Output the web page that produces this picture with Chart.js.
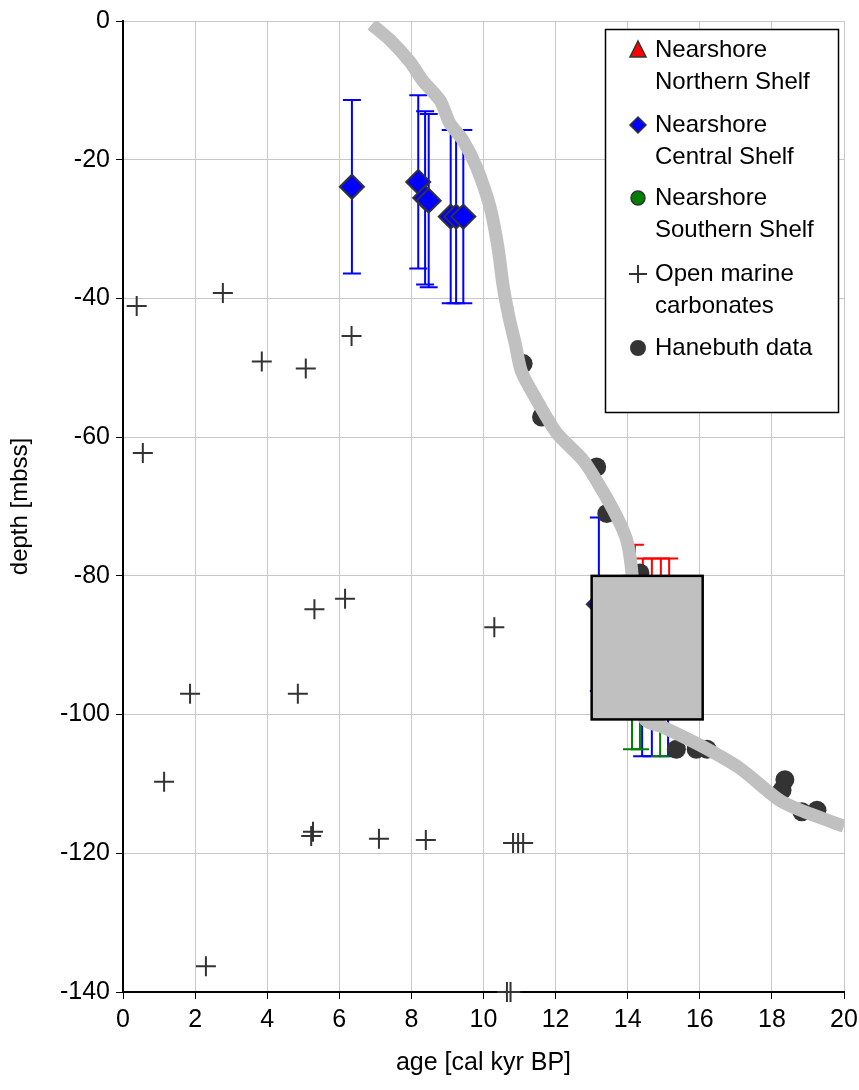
<!DOCTYPE html>
<html>
<head>
<meta charset="utf-8">
<script src="https://cdn.jsdelivr.net/npm/chart.js@4.4.0/dist/chart.umd.min.js"></script>
<style>
body { margin: 0; background: #fff; }
</style>
</head>
<body>
<canvas id="chart" width="859" height="1090"></canvas>
<script>

// x ticks / y ticks
var ageTicks = [0, 2, 4, 6, 8, 10, 12, 14, 16, 18, 20];
var depthTicks = [0, -20, -40, -60, -80, -100, -120, -140];

// Nearshore Northern Shelf (red triangles)
var northAge = [14.2, 14.42, 14.67, 14.92, 15.15];
var northDepth = [-87, -89, -89, -89, -89];
var northErr = [11.5, 11.5, 11.5, 11.5, 11.5];

// Nearshore Central Shelf (blue diamonds)
var centralAge = [6.35, 8.19, 8.38, 8.48, 9.09, 9.24, 9.44, 13.2, 14.4, 14.67, 15.12];
var centralDepth = [-23.9, -23.2, -25.5, -25.9, -28.2, -28.2, -28.2, -84.1, -93.5, -93.5, -93.5];
var centralErr = [12.5, 12.5, 12.5, 12.5, 12.5, 12.5, 12.5, 12.5, 12.5, 12.5, 12.5];

// Nearshore Southern Shelf (green circles)
var southAge = [14.12, 14.34, 14.9];
var southDepth = [-92.5, -92.5, -93.5];
var southErr = [12.5, 12.5, 12.5];

// Open marine carbonates (crosses)
var marineAge = [0.38, 2.77, 3.85, 5.07, 6.34, 0.55, 5.31, 6.16, 10.3, 1.86, 4.85, 1.14,
                 5.27, 5.22, 7.1, 8.4, 10.82, 10.96, 11.1, 2.3, 10.65, 10.75];
var marineDepth = [-41.1, -39.2, -49.1, -50.1, -45.4, -62.3, -84.8, -83.3, -87.4, -97, -97, -109.7,
                   -116.9, -117.5, -117.9, -118.1, -118.5, -118.5, -118.5, -136.3, -140, -140];

// Hanebuth data (dark circles)
var hanAge = [11.1, 11.61, 13.14, 13.42, 14.34, 15.35, 15.9, 16.2, 18.28, 18.36, 18.83, 19.25];
var hanDepth = [-49.4, -57.1, -64.3, -71.0, -79.6, -105, -105, -105, -110.9, -109.4, -114, -113.8];

// sea level curve (grey band)
var curveAge = [6.9, 7.4, 7.96, 8.3, 8.8, 9.06, 9.43, 9.8, 10.18, 10.4, 10.55, 10.72, 10.88, 11.05,
                11.47, 12.03, 12.76, 13.23, 13.7, 13.97, 14.1, 14.2, 14.25, 14.48, 14.98, 16.0,
                17.1, 18.2, 18.8, 20.0];
var curveDepth = [-0.5, -2.7, -5.9, -8.5, -11.5, -14.7, -17.2, -21, -26.8, -32.6, -38.4, -43, -46.5, -50.5,
                  -54.6, -59.4, -63.3, -67.1, -71.5, -74.8, -78.7, -85, -95, -100.7, -101.8, -104.4,
                  -107.7, -112.3, -113.8, -116.1];

// grey box (age range, depth range)
var boxAge = [13.0, 16.08];
var boxDepth = [-80, -100.7];

var legendLabels = [
    ['Nearshore', 'Northern Shelf'],
    ['Nearshore', 'Central Shelf'],
    ['Nearshore', 'Southern Shelf'],
    ['Open marine', 'carbonates'],
    ['Hanebuth data']
];

function pts(xs, ys) {
    return xs.map(function (x, i) { return { x: x, y: ys[i] }; });
}

var regular = "'Liberation Sans', Arial, sans-serif";

var errorBarPlugin = {
    id: 'errorBars',
    beforeDatasetsDraw: function (chart) {
        var ctx = chart.ctx, xs = chart.scales.x, ys = chart.scales.y;
        chart.data.datasets.forEach(function (ds) {
            if (!ds.errors) return;
            ctx.save();
            ctx.strokeStyle = ds.errorColor;
            ctx.lineWidth = 2;
            ds.data.forEach(function (p, j) {
                var px = xs.getPixelForValue(p.x);
                var top = ys.getPixelForValue(p.y + ds.errors[j]);
                var bot = ys.getPixelForValue(p.y - ds.errors[j]);
                ctx.beginPath();
                ctx.moveTo(px, top); ctx.lineTo(px, bot);
                ctx.moveTo(px - 9, top); ctx.lineTo(px + 9, top);
                ctx.moveTo(px - 9, bot); ctx.lineTo(px + 9, bot);
                ctx.stroke();
            });
            ctx.restore();
        });
    }
};

var boxPlugin = {
    id: 'greyBox',
    afterDatasetsDraw: function (chart) {
        var ctx = chart.ctx, xs = chart.scales.x, ys = chart.scales.y;
        var x0 = xs.getPixelForValue(boxAge[0]), x1 = xs.getPixelForValue(boxAge[1]);
        var y0 = ys.getPixelForValue(boxDepth[0]), y1 = ys.getPixelForValue(boxDepth[1]);
        ctx.save();
        ctx.fillStyle = '#c0c0c0';
        ctx.strokeStyle = '#000';
        ctx.lineWidth = 2.5;
        ctx.fillRect(x0, y0, x1 - x0, y1 - y0);
        ctx.strokeRect(x0, y0, x1 - x0, y1 - y0);
        ctx.restore();
    }
};

var legendPlugin = {
    id: 'boxLegend',
    afterDraw: function (chart) {
        var ctx = chart.ctx;
        ctx.save();
        ctx.fillStyle = '#fff';
        ctx.fillRect(605, 29, 233, 383);
        ctx.strokeStyle = '#000';
        ctx.lineWidth = 1.5;
        ctx.strokeRect(605.5, 29.5, 233, 383);

        var rows = [50, 125, 198, 274, 348];
        var mx = 638;
        ctx.lineWidth = 1.5;
        ctx.strokeStyle = '#333';
        // triangle
        ctx.fillStyle = '#ff0000';
        ctx.beginPath();
        ctx.moveTo(mx, rows[0] - 9); ctx.lineTo(mx + 8, rows[0] + 7); ctx.lineTo(mx - 8, rows[0] + 7);
        ctx.closePath(); ctx.fill(); ctx.stroke();
        // diamond
        ctx.fillStyle = '#0000ff';
        ctx.beginPath();
        ctx.moveTo(mx, rows[1] - 8); ctx.lineTo(mx + 8, rows[1]); ctx.lineTo(mx, rows[1] + 8); ctx.lineTo(mx - 8, rows[1]);
        ctx.closePath(); ctx.fill(); ctx.stroke();
        // green circle
        ctx.fillStyle = '#008000';
        ctx.beginPath(); ctx.arc(mx, rows[2], 7, 0, Math.PI * 2); ctx.fill(); ctx.stroke();
        // cross
        ctx.lineWidth = 2;
        ctx.beginPath();
        ctx.moveTo(mx - 9, rows[3]); ctx.lineTo(mx + 9, rows[3]);
        ctx.moveTo(mx, rows[3] - 9); ctx.lineTo(mx, rows[3] + 9);
        ctx.stroke();
        // dark circle
        ctx.fillStyle = '#333';
        ctx.beginPath(); ctx.arc(mx, rows[4], 8, 0, Math.PI * 2); ctx.fill();

        ctx.fillStyle = '#000';
        ctx.font = '24px ' + regular;
        ctx.textBaseline = 'middle';
        legendLabels.forEach(function (lines, i) {
            lines.forEach(function (t, k) {
                ctx.fillText(t, 655, rows[i] + k * 32);
            });
        });
        ctx.restore();
    }
};

var config = {
    type: 'scatter',
    data: {
        datasets: [
            {
                label: 'curve',
                data: pts(curveAge, curveDepth),
                showLine: true,
                borderColor: '#c0c0c0',
                borderWidth: 13,
                pointRadius: 0,
                tension: 0.25
            },
            {
                label: 'Nearshore Central Shelf',
                data: pts(centralAge, centralDepth),
                errors: centralErr,
                errorColor: '#0000ff',
                pointStyle: 'rectRot',
                pointRadius: 12,
                backgroundColor: '#0000ff',
                borderColor: '#333',
                borderWidth: 2
            },
            {
                label: 'Nearshore Northern Shelf',
                data: pts(northAge, northDepth),
                errors: northErr,
                errorColor: '#ff0000',
                pointStyle: 'triangle',
                pointRadius: 11,
                backgroundColor: '#ff0000',
                borderColor: '#333',
                borderWidth: 2
            },
            {
                label: 'Nearshore Southern Shelf',
                data: pts(southAge, southDepth),
                errors: southErr,
                errorColor: '#008000',
                pointStyle: 'circle',
                pointRadius: 9,
                backgroundColor: '#008000',
                borderColor: '#333',
                borderWidth: 2
            },
            {
                label: 'Hanebuth data',
                data: pts(hanAge, hanDepth),
                pointStyle: 'circle',
                pointRadius: 9.5,
                backgroundColor: '#333',
                borderColor: '#333',
                borderWidth: 0
            },
            {
                label: 'Open marine carbonates',
                data: pts(marineAge, marineDepth),
                pointStyle: 'cross',
                pointRadius: 10,
                borderColor: '#333',
                borderWidth: 2,
                clip: false
            }
        ]
    },
    options: {
        responsive: false,
        animation: false,
        devicePixelRatio: 1,
        layout: { padding: { top: 21, right: 15, left: 0, bottom: 0 } },
        plugins: {
            legend: { display: false },
            tooltip: { enabled: false }
        },
        scales: {
            x: {
                type: 'linear',
                min: 0,
                max: 20,
                afterBuildTicks: function (s) { s.ticks = ageTicks.map(function (v) { return { value: v }; }); },
                afterFit: function (s) { s.height = 98; s.paddingLeft = 0; s.paddingRight = 0; },
                grid: { color: '#c8c8c8', lineWidth: 1, tickLength: 7, tickColor: '#000' },
                border: { color: '#000', width: 2 },
                ticks: { color: '#000', padding: 6, maxRotation: 0, font: { family: regular, size: 25 } },
                title: {
                    display: true,
                    text: 'age [cal kyr BP]',
                    color: '#000',
                    font: { family: regular, size: 25 },
                    padding: { top: 4, bottom: 12 }
                }
            },
            y: {
                type: 'linear',
                min: -140,
                max: 0,
                afterBuildTicks: function (s) { s.ticks = depthTicks.map(function (v) { return { value: v }; }); },
                afterFit: function (s) { s.width = 123; s.paddingTop = 0; s.paddingBottom = 0; },
                grid: { color: '#c8c8c8', lineWidth: 1, tickLength: 7, tickColor: '#000' },
                border: { color: '#000', width: 2 },
                ticks: { color: '#000', padding: 6, font: { family: regular, size: 25 } },
                title: {
                    display: true,
                    text: 'depth [mbss]',
                    color: '#000',
                    font: { family: regular, size: 24 },
                    padding: { top: 6, bottom: 4 }
                }
            }
        }
    },
    plugins: [errorBarPlugin, boxPlugin, legendPlugin]
};

var ctx = document.getElementById('chart').getContext('2d');
var myChart = new Chart(ctx, config);

</script>
</body>
</html>
